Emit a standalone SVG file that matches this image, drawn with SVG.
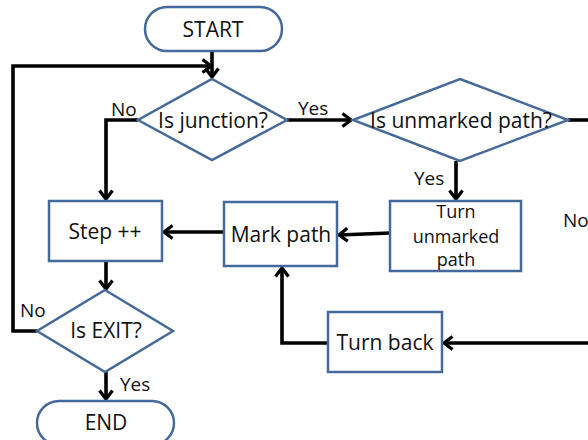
<svg xmlns="http://www.w3.org/2000/svg" width="588" height="440" viewBox="0 0 588 440">
<style>
.shape{fill:#fff;stroke:#44699a;stroke-width:2.5}
.t{font-family:"Open Sans","Liberation Sans",sans-serif;font-size:21px;fill:#111;text-anchor:middle}
.s{font-size:18px}
.l{font-family:"Open Sans","Liberation Sans",sans-serif;font-size:19px;fill:#111}
.c{fill:none;stroke:#000;stroke-width:3.6}
</style>
<defs>
<marker id="arr" viewBox="0 0 12 16" refX="10" refY="8" markerWidth="12" markerHeight="16" markerUnits="userSpaceOnUse" orient="auto">
<path d="M1.5,1.5 L10,8 L1.5,14.5" fill="none" stroke="#000" stroke-width="3.3"/>
</marker>
</defs>
<rect width="588" height="440" fill="#fff"/>
<g id="connectors">
<path class="c" d="M212,51 V77" marker-end="url(#arr)"/>
<path class="c" d="M37,331 H13 V66 H211" marker-end="url(#arr)"/>
<path class="c" d="M138,120 H106 V199" marker-end="url(#arr)"/>
<path class="c" d="M287,120 H351" marker-end="url(#arr)"/>
<path class="c" d="M568,120 H588"/>
<path class="c" d="M456,161 V199" marker-end="url(#arr)"/>
<path class="c" d="M390,233 L339,235" marker-end="url(#arr)"/>
<path class="c" d="M224,232 H164" marker-end="url(#arr)"/>
<path class="c" d="M106,261 V289" marker-end="url(#arr)"/>
<path class="c" d="M106,372 V399" marker-end="url(#arr)"/>
<path class="c" d="M588,343 H444" marker-end="url(#arr)"/>
<path class="c" d="M328,343 H282 V268" marker-end="url(#arr)"/>
<text class="l" x="111" y="116">No</text>
<text class="l" x="298" y="115">Yes</text>
<text class="l" x="414" y="185">Yes</text>
<text class="l" x="563" y="227">No</text>
<text class="l" x="20" y="317">No</text>
<text class="l" x="120" y="391">Yes</text>
</g>
<g id="start">
<rect class="shape" x="145" y="7" width="137" height="44" rx="22"/>
<text class="t" x="213" y="37">START</text>
</g>
<g id="is-junction">
<polygon class="shape" points="212,79 287,120 212,160 138,120"/>
<text class="t" x="213" y="128">Is junction?</text>
</g>
<g id="is-unmarked">
<polygon class="shape" points="460,79 568,120 460,161 353,120"/>
<text class="t" x="461" y="128">Is unmarked path?</text>
</g>
<g id="turn-unmarked">
<rect class="shape" x="390" y="201" width="131" height="70"/>
<text class="t s" x="456" y="218">Turn</text>
<text class="t s" x="456" y="243">unmarked</text>
<text class="t s" x="456" y="266">path</text>
</g>
<g id="mark-path">
<rect class="shape" x="224" y="202" width="113" height="64"/>
<text class="t" x="281" y="242">Mark path</text>
</g>
<g id="step">
<rect class="shape" x="49" y="201" width="113" height="60"/>
<text class="t" x="105" y="239">Step ++</text>
</g>
<g id="is-exit">
<polygon class="shape" points="105,290 173,331 105,372 37,331"/>
<text class="t" x="106" y="338">Is EXIT?</text>
</g>
<g id="end">
<rect class="shape" x="37" y="401" width="137" height="44" rx="22"/>
<text class="t" x="106" y="430">END</text>
</g>
<g id="turn-back">
<rect class="shape" x="328" y="312" width="114" height="60"/>
<text class="t" x="385" y="350">Turn back</text>
</g>
</svg>
